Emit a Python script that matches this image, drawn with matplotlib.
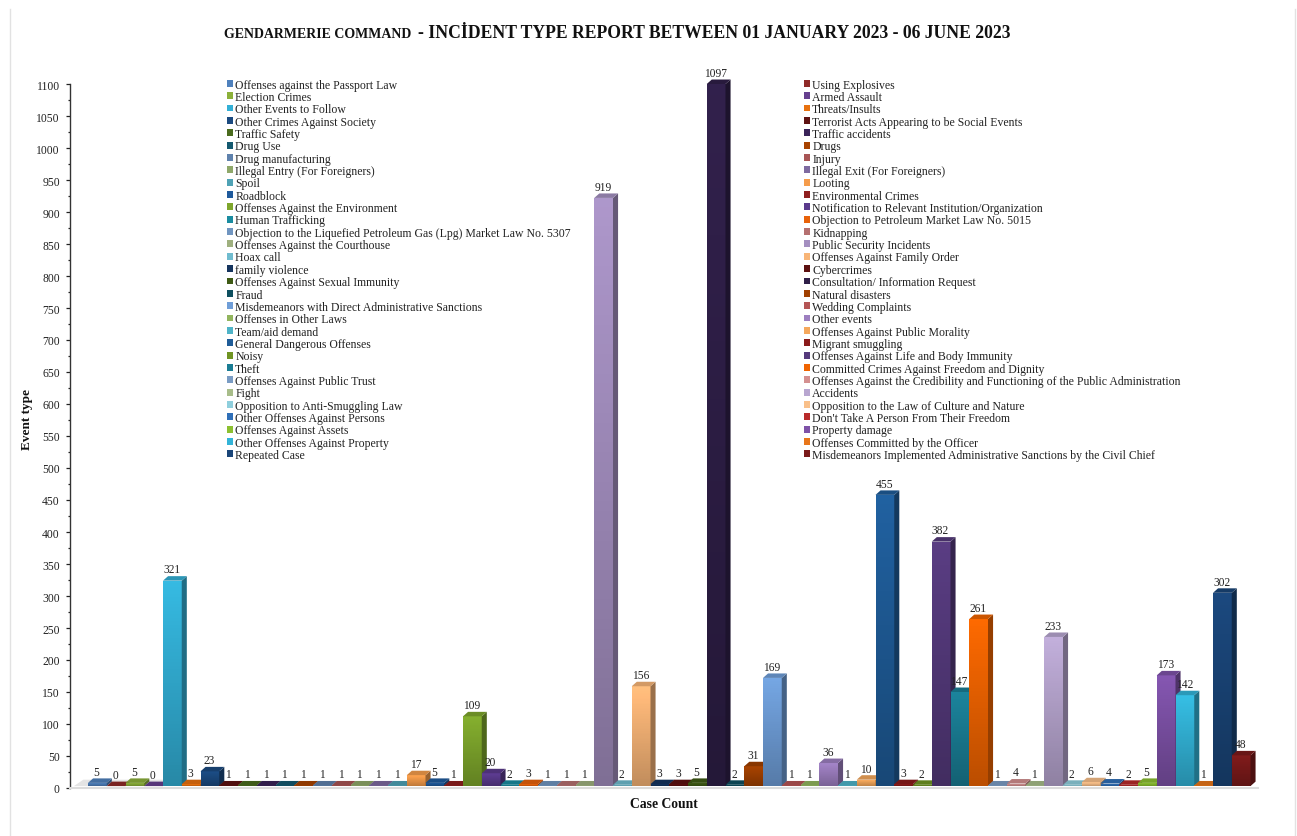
import numpy as np
import matplotlib
matplotlib.use('Agg')
import matplotlib.pyplot as plt
from matplotlib.colors import to_rgb
from matplotlib.patches import Patch

## Data
legend_left = ["Offenses against the Passport Law", "Election Crimes", "Other Events to Follow",
    "Other Crimes Against Society", "Traffic Safety", "Drug Use", "Drug manufacturing",
    "Illegal Entry (For Foreigners)", "Spoil", "Roadblock", "Offenses Against the Environment",
    "Human Trafficking", "Objection to the Liquefied Petroleum Gas (Lpg) Market Law No. 5307",
    "Offenses Against the Courthouse", "Hoax call", "family violence",
    "Offenses Against Sexual Immunity", "Fraud", "Misdemeanors with Direct Administrative Sanctions",
    "Offenses in Other Laws", "Team/aid demand", "General Dangerous Offenses", "Noisy", "Theft",
    "Offenses Against Public Trust", "Fight", "Opposition to Anti-Smuggling Law",
    "Other Offenses Against Persons", "Offenses Against Assets", "Other Offenses Against Property",
    "Repeated Case"]
legend_right = ["Using Explosives", "Armed Assault", "Threats/Insults",
    "Terrorist Acts Appearing to be Social Events", "Traffic accidents", "Drugs", "Injury",
    "Illegal Exit (For Foreigners)", "Looting", "Environmental Crimes",
    "Notification to Relevant Institution/Organization", "Objection to Petroleum Market Law No. 5015",
    "Kidnapping", "Public Security Incidents", "Offenses Against Family Order", "Cybercrimes",
    "Consultation/ Information Request", "Natural disasters", "Wedding Complaints", "Other events",
    "Offenses Against Public Morality", "Migrant smuggling", "Offenses Against Life and Body Immunity",
    "Committed Crimes Against Freedom and Dignity",
    "Offenses Against the Credibility and Functioning of the Public Administration", "Accidents",
    "Opposition to the Law of Culture and Nature", "Don't Take A Person From Their Freedom",
    "Property damage", "Offenses Committed by the Officer",
    "Misdemeanors Implemented Administrative Sanctions by the Civil Chief"]
counts = [5, 0, 5, 0, 321, 3, 23, 1, 1, 1, 1, 1, 1, 1, 1, 1, 1, 17, 5, 1, 109, 20, 2, 3, 1, 1, 1,
    919, 2, 156, 3, 3, 5, 1097, 2, 31, 169, 1, 1, 36, 1, 10, 455, 3, 2, 382, 147, 261, 1, 4, 1,
    233, 2, 6, 4, 2, 5, 173, 142, 1, 302, 48]
y_ticks = list(range(0, 1101, 50))

## Style
colors = ['#4f81bd', '#8f2a28', '#8cb13a', '#66408f', '#33b0d6', '#e8710f',
    '#1b4a80', '#5e1212', '#4a6b1e', '#3a2358', '#14596f', '#a84300',
    '#5f82ad', '#a85555', '#8fa86a', '#7e6aa0', '#4fa2b5', '#f59c4b',
    '#1f5a9c', '#8f1f1f', '#7ea62c', '#5a3a8c', '#1a8ca0', '#e8620a',
    '#7095c0', '#b57070', '#9fb07f', '#a48fc0', '#70bccf', '#f8b577',
    '#15345e', '#5c1010', '#3e5a14', '#2f1f48', '#0e4f5f', '#a04000',
    '#6f9ed8', '#b55555', '#92b55e', '#9d7fc0', '#4fb4c8', '#f5a85c',
    '#1f5c98', '#8a1a1a', '#6f9422', '#553a7c', '#1a7d94', '#f06400',
    '#7a9cc4', '#d49090', '#a8bd8a', '#b8a6d0', '#8fcfdd', '#f9c08a',
    '#2f6fb8', '#b82a2a', '#8cc030', '#7e52a8', '#33b4d8', '#e8761a',
    '#1a4578', '#7a1a1a']

W, H = 1297, 837
plt.rcParams['font.family'] = ['Liberation Serif', 'DejaVu Serif']
text_col = '#222222'


def shade(col, k):
    return tuple(min(1, c * k) for c in to_rgb(col))


fig = plt.figure(figsize=(W / 100, H / 100), dpi=100)
ax = fig.add_axes([70 / W, 1 - 789 / H, (1258 - 70) / W, (789 - 85) / H])

dx = 0.27  # depth of the 3d look, category units
dy = 7.0   # depth, value units
lift = 3.0  # bars stand a little above the axis line

# floor at the left end
ax.fill([-1.25, 3.5, 3.5 + dx, -0.75], [lift, lift, lift + 10, lift + 10],
        color='#e4e4e4', lw=0, zorder=1)

# bars, left to right so later ones cover the side of earlier ones
x = np.arange(len(counts))
for i, v in enumerate(counts):
    z = 2 + i * 0.01
    bar = ax.bar(x[i], v, width=1.0, bottom=lift, color=colors[i], lw=0, zorder=z,
                 clip_on=False)[0]
    if v > 0:
        grad = np.linspace(1.06, 0.78, 60)
        img = np.array([[shade(colors[i], k)] for k in grad])
        im = ax.imshow(img, extent=(i - 0.5, i + 0.5, lift, lift + v), aspect='auto',
                       interpolation='nearest', zorder=z)
        im.set_clip_path(bar)
    # side and top faces
    ax.fill([i + 0.5, i + 0.5 + dx, i + 0.5 + dx, i + 0.5],
            [lift, lift + dy, lift + v + dy, lift + v],
            color=shade(colors[i], 0.62), lw=0, zorder=z, clip_on=False)
    ax.fill([i - 0.5, i + 0.5, i + 0.5 + dx, i - 0.5 + dx],
            [lift + v, lift + v, lift + v + dy, lift + v + dy],
            color=shade(colors[i], 0.85), lw=0, zorder=z, clip_on=False)
ax.set_xlim(-1.46, 61.9)
ax.set_ylim(0, 1100)

# value labels go above everything
for i, v in enumerate(counts):
    ax.annotate(str(v), (i, lift + v + dy), xytext=(-0.5, 0.5), textcoords='offset points',
                ha='center', va='bottom', fontsize=8.3, color=text_col, zorder=5,
                annotation_clip=False)

## Axes
ax.set_xticks([])
ax.set_yticks(y_ticks)
ax.set_yticks([t + 25 for t in y_ticks[:-1]], minor=True)
ax.tick_params(axis='y', which='major', length=2.8, width=0.9, labelsize=8.4,
               colors=text_col, pad=4.5)
ax.tick_params(axis='y', which='minor', length=1.6, width=0.9, color=text_col)
for s in ['top', 'right']:
    ax.spines[s].set_visible(False)
ax.spines['left'].set_color('#333333')
ax.spines['left'].set_linewidth(1.0)
ax.spines['bottom'].set_color('#dcdcdc')
ax.spines['bottom'].set_linewidth(1.5)
ax.patch.set_alpha(0)

fig.text(27 / W, 1 - 420 / H, 'Event type', rotation=90, ha='center', va='center',
         fontsize=9.5, fontweight='bold', color='#111111')
fig.text(664 / W, 1 - 805 / H, 'Case Count', ha='center', va='center',
         fontsize=9.8, fontweight='bold', color='#111111')

## Title
fig.text(224 / W, 1 - 38 / H, 'GENDARMERIE COMMAND', ha='left', va='baseline',
         fontsize=10.0, fontweight='bold', color='#111111')
fig.text(418 / W, 1 - 38 / H, '- INCİDENT TYPE REPORT BETWEEN 01 JANUARY 2023 - 06 JUNE 2023',
         ha='left', va='baseline', fontsize=12.7, fontweight='bold', color='#111111')

## Legend, two fixed columns
def add_legend(labels, offset, px):
    handles = [Patch(facecolor=colors[2 * i + offset], edgecolor='none', label=l)
               for i, l in enumerate(labels)]
    leg = fig.legend(handles=handles, loc='upper left', bbox_to_anchor=(px / W, 1 - 79.5 / H),
                     frameon=False, fontsize=8.5, ncol=1, borderpad=0, borderaxespad=0,
                     labelspacing=0.03, handlelength=0.52, handleheight=0.52, handletextpad=0.17,
                     labelcolor=text_col)
    return leg


add_legend(legend_left, 0, 227)
add_legend(legend_right, 1, 804)

## Page border lines
fig.add_artist(plt.Line2D([9.5 / W, 9.5 / W], [0, 1 - 10 / H], color='#e2e2e2', lw=1))
fig.add_artist(plt.Line2D([1294.5 / W, 1294.5 / W], [0, 1 - 10 / H], color='#e2e2e2', lw=1))

fig.savefig('out.png', dpi=100)
